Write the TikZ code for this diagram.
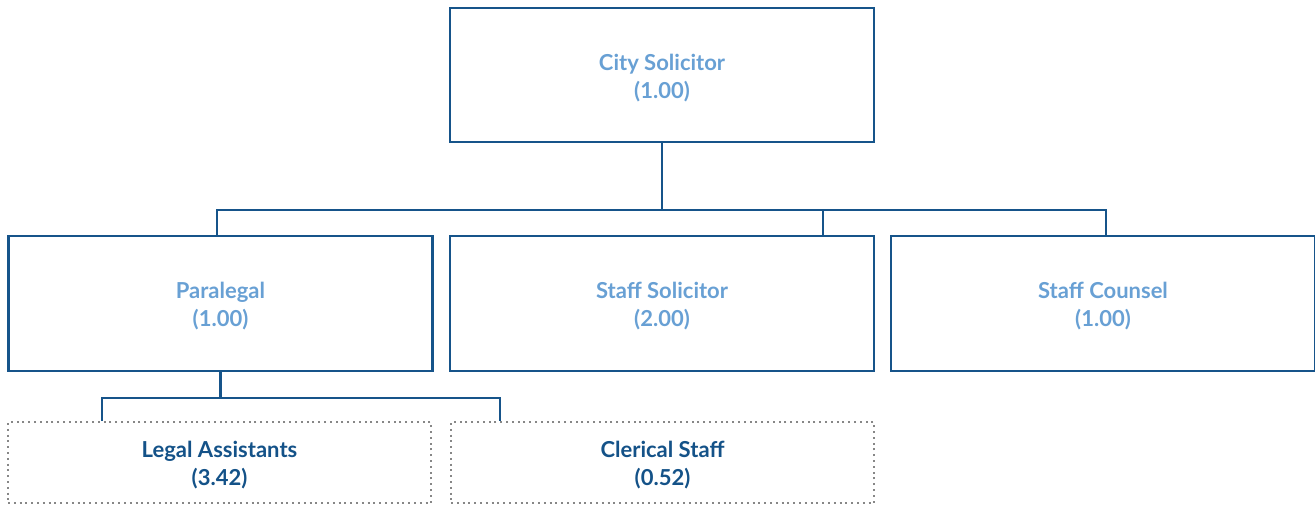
\documentclass[tikz,border=0pt]{standalone}
\usepackage{fontspec}
\setmainfont{Lato}
\definecolor{linec}{RGB}{22,84,138}
\definecolor{lighttext}{RGB}{104,160,212}
\definecolor{darktext}{RGB}{20,82,136}
\definecolor{dotc}{RGB}{135,135,135}
\newcommand{\tstrut}{\rule{0pt}{22pt}}
\begin{document}
\begin{tikzpicture}[x=1pt,y=-1pt,
  solidbox/.style={draw=linec,line width=2.8pt,rectangle,minimum width=424pt,minimum height=134pt,
    align=center,text=lighttext,font=\fontsize{22}{28}\selectfont\bfseries,inner sep=0pt},
  dotbox/.style={draw=dotc,line width=2.2pt,dash pattern=on 2pt off 3.8pt,rectangle,minimum width=423pt,minimum height=81pt,
    align=center,text=darktext,font=\fontsize{22}{28}\selectfont\bfseries,inner sep=0pt},
  conn/.style={draw=linec,line width=2.8pt}]
\useasboundingbox (0,0) rectangle (1315,504);
\node[solidbox] (cs) at (662,75) {\tstrut City Solicitor\\(1.00)};
\node[solidbox,minimum height=135pt] (pl) at (220.5,303.5) {\tstrut Paralegal\\(1.00)};
\node[solidbox,minimum height=135pt] (ss) at (662,303.5) {\tstrut Staff Solicitor\\(2.00)};
\node[solidbox,minimum height=135pt] (sc) at (1103,303.5) {\tstrut Staff Counsel\\(1.00)};
\node[dotbox] (la) at (219.5,462.5) {\tstrut Legal Assistants\\(3.42)};
\node[dotbox] (cl) at (662.5,462.5) {\tstrut Clerical Staff\\(0.52)};
\coordinate (busL) at (217,210);
\coordinate (busS) at (823,210);
\coordinate (busR) at (1106,210);
\draw[conn] (cs.south) -- (cs.south |- busL);
\draw[conn,line cap=rect] (busL) -- (busR);
\draw[conn] (busL) -- (busL |- pl.north);
\draw[conn] (busS) -- (busS |- ss.north);
\draw[conn] (busR) -- (busR |- sc.north);
\coordinate (subL) at (102,398);
\coordinate (subR) at (500,398);
\draw[conn] (pl.south) -- (pl.south |- subL);
\draw[conn,line cap=rect] (subL) -- (subR);
\draw[conn] (subL) -- (subL |- la.north);
\draw[conn] (subR) -- (subR |- cl.north);
\end{tikzpicture}
\end{document}
